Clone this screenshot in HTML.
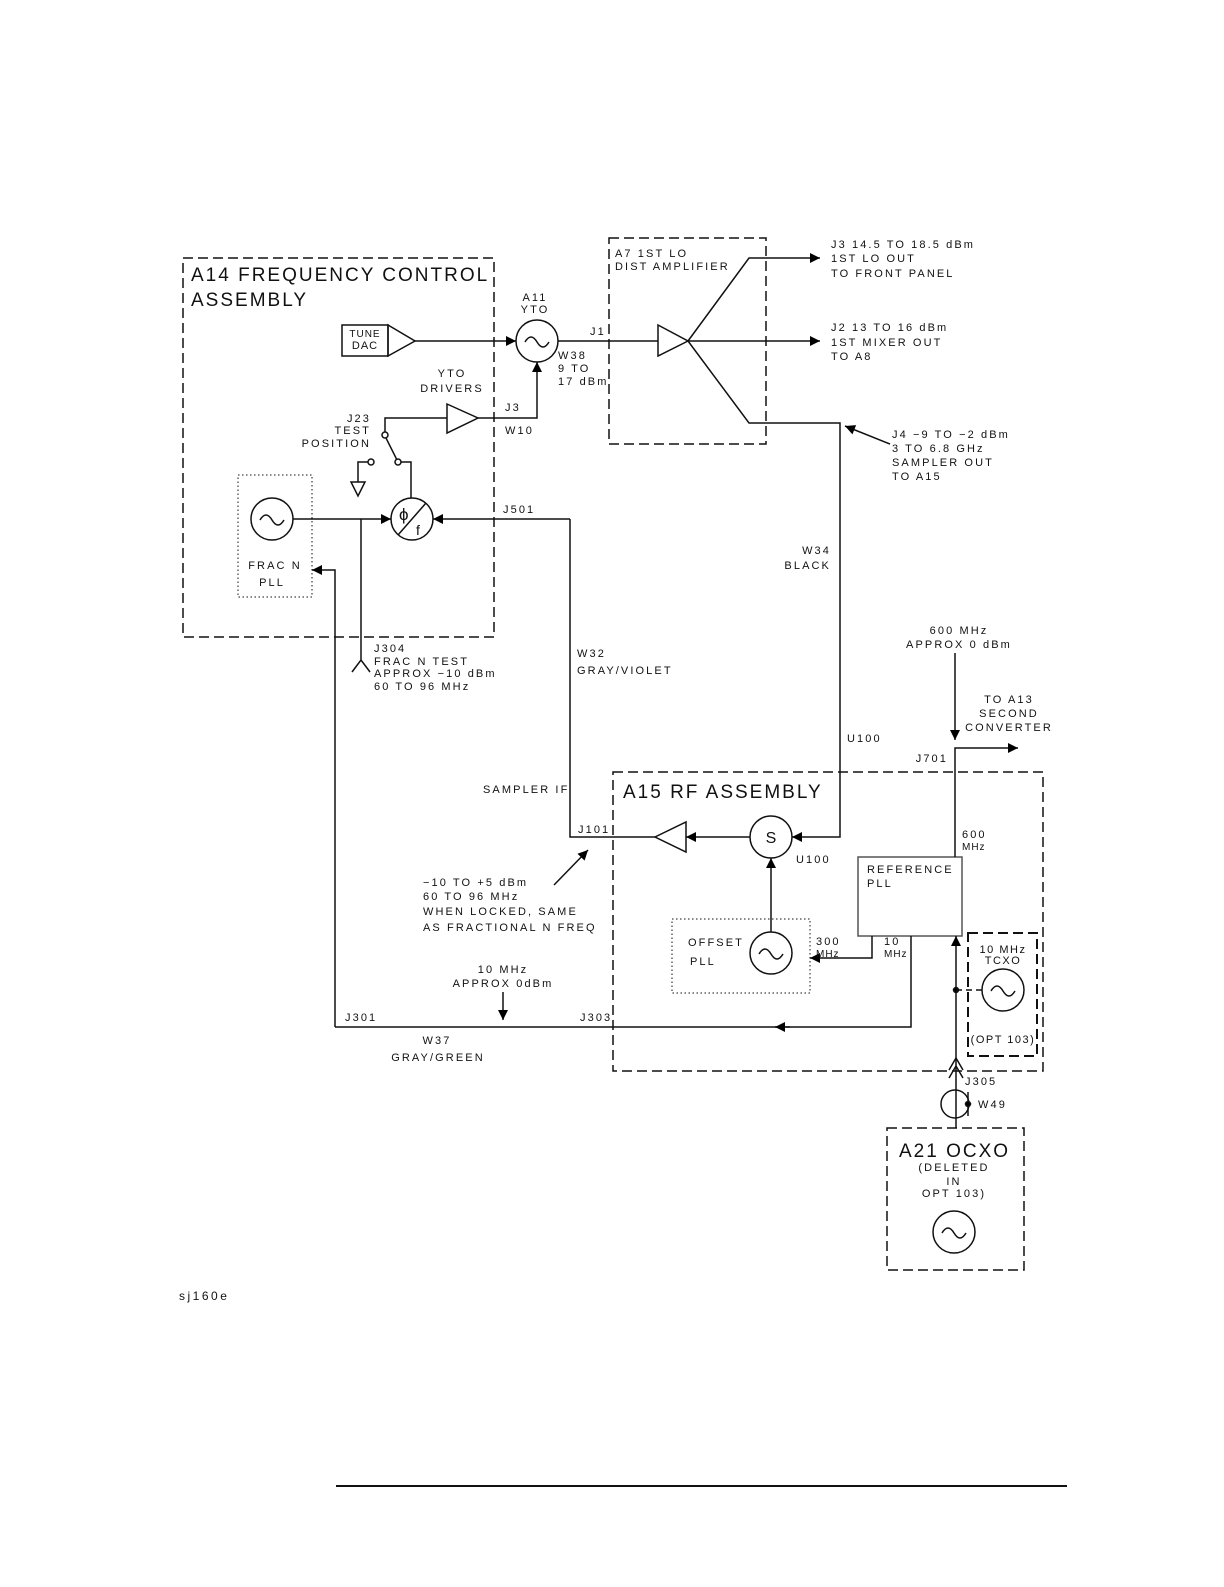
<!DOCTYPE html>
<html><head><meta charset="utf-8"><style>
html,body{margin:0;padding:0;background:#fff}
svg text{font-family:"Liberation Sans",sans-serif;font-size:11px;letter-spacing:2.1px;fill:#111}
svg text.big{font-size:19px;letter-spacing:2px}
</style></head><body>
<svg width="1224" height="1582" viewBox="0 0 1224 1582" xmlns="http://www.w3.org/2000/svg">
<defs>
<marker id="a" viewBox="0 0 10 10" refX="10" refY="5" markerWidth="14" markerHeight="10" markerUnits="userSpaceOnUse" orient="auto"><path d="M0,0L10,5L0,10z" fill="#000"/></marker>
</defs>
<g fill="none" stroke="#111" stroke-width="1.5">
<rect x="183" y="258" width="311" height="379" stroke-dasharray="10,5"/>
<rect x="609" y="238" width="157" height="206" stroke-dasharray="10,5"/>
<rect x="613" y="772" width="430" height="299" stroke-dasharray="10,5"/>
<rect x="968" y="933" width="69" height="123" stroke-dasharray="10,5" stroke-width="2"/>
<rect x="887" y="1128" width="137" height="142" stroke-dasharray="10,5"/>
<rect x="238" y="475" width="74" height="122" stroke-dasharray="1.5,2.5" stroke-width="1"/>
<rect x="672" y="919" width="138" height="74" stroke-dasharray="1.5,2.5" stroke-width="1"/>
<rect x="858" y="857" width="104" height="79" stroke="#555"/>
<rect x="342" y="325" width="46" height="31"/>
<path d="M388,325L415,341L388,356z"/>
<path d="M415,341H516" marker-end="url(#a)"/>
<circle cx="537" cy="341" r="21"/>
<path d="M525,342q6,-10 12,0t12,0"/>
<path d="M558,341H658"/>
<path d="M658,325L688,341L658,356z"/>
<path d="M688,341L749,258H820" marker-end="url(#a)"/>
<path d="M688,341H820" marker-end="url(#a)"/>
<path d="M688,341L749,423H840V837H792" marker-end="url(#a)"/>
<path d="M890,444L845,426" marker-end="url(#a)"/>
<path d="M447,404L478,418L447,433z"/>
<path d="M478,418H537V362" marker-end="url(#a)"/>
<path d="M447,418H385V432"/>
<circle cx="385" cy="435" r="3"/>
<path d="M386,438L397,460"/>
<circle cx="398" cy="462" r="3"/>
<path d="M401,462H411V498"/>
<circle cx="371" cy="462" r="3"/>
<path d="M368,462H358V482"/>
<path d="M351,482H365L358,496z"/>
<circle cx="412" cy="519" r="21"/>
<path d="M398,535L426,503"/>
<circle cx="272" cy="519" r="21"/>
<path d="M260,520q6,-10 12,0t12,0"/>
<path d="M293,519H391" marker-end="url(#a)"/>
<path d="M361,519V660M352,672L361,660L370,672"/>
<path d="M570,519V837H655M570,519H433" marker-end="url(#a)"/>
<path d="M335,1027V570H312" marker-end="url(#a)"/>
<path d="M655,837L686,822V852z"/>
<path d="M750,837H686" marker-end="url(#a)"/>
<circle cx="771" cy="837" r="21"/>
<path d="M771,932V858" marker-end="url(#a)"/>
<circle cx="771" cy="953" r="21"/>
<path d="M759,954q6,-10 12,0t12,0"/>
<path d="M872,936V958H810" marker-end="url(#a)"/>
<path d="M911,936V1027H335"/>
<path d="M790,1027H775" marker-end="url(#a)"/>
<path d="M503,992V1020" marker-end="url(#a)"/>
<path d="M955,857V748H1018" marker-end="url(#a)"/>
<path d="M955,653V740" marker-end="url(#a)"/>
<path d="M956,1128V936" marker-end="url(#a)"/>
<circle cx="956" cy="990" r="2.5" fill="#000"/>
<path d="M956,990H982" stroke-dasharray="6,4"/>
<circle cx="1003" cy="990" r="21"/>
<path d="M991,991q6,-10 12,0t12,0"/>
<path d="M949,1070L956,1058L963,1070M949,1078L956,1066L963,1078"/>
<circle cx="955" cy="1104" r="14"/>
<path d="M968,1092V1116"/>
<circle cx="968" cy="1104" r="2.5" fill="#000"/>
<circle cx="954" cy="1232" r="21"/>
<path d="M942,1233q6,-10 12,0t12,0"/>
<path d="M554,885L588,850" marker-end="url(#a)"/>
<path d="M336,1486H1067" stroke-width="2"/>
</g>
<text x="191" y="281" class="big">A14 FREQUENCY CONTROL</text>
<text x="191" y="306" class="big">ASSEMBLY</text>
<text x="623" y="798" class="big">A15 RF ASSEMBLY</text>
<text x="899" y="1157" class="big">A21 OCXO</text>
<text x="365" y="337" text-anchor="middle" style="font-size:10px;letter-spacing:1px">TUNE</text>
<text x="365" y="349" text-anchor="middle" style="letter-spacing:1px">DAC</text>
<text x="771" y="843" text-anchor="middle" style="font-size:16px;letter-spacing:0">S</text>
<text x="535" y="301" text-anchor="middle">A11</text>
<text x="535" y="313" text-anchor="middle">YTO</text>
<text x="590" y="335">J1</text>
<text x="558" y="359">W38</text>
<text x="558" y="372">9 TO</text>
<text x="558" y="385">17 dBm</text>
<text x="452" y="377" text-anchor="middle">YTO</text>
<text x="452" y="392" text-anchor="middle">DRIVERS</text>
<text x="505" y="411">J3</text>
<text x="505" y="434">W10</text>
<text x="371" y="422" text-anchor="end">J23</text>
<text x="371" y="434" text-anchor="end">TEST</text>
<text x="371" y="447" text-anchor="end">POSITION</text>
<text x="399" y="520" style="font-size:17px;letter-spacing:0">ϕ</text>
<text x="416" y="535" style="font-size:14px;letter-spacing:0">f</text>
<text x="275" y="569" text-anchor="middle">FRAC N</text>
<text x="272" y="586" text-anchor="middle">PLL</text>
<text x="503" y="513">J501</text>
<text x="374" y="652">J304</text>
<text x="374" y="665">FRAC N TEST</text>
<text x="374" y="677">APPROX −10 dBm</text>
<text x="374" y="690">60 TO 96 MHz</text>
<text x="615" y="257">A7 1ST LO</text>
<text x="615" y="270">DIST AMPLIFIER</text>
<text x="831" y="248">J3 14.5 TO 18.5 dBm</text>
<text x="831" y="262">1ST LO OUT</text>
<text x="831" y="277">TO FRONT PANEL</text>
<text x="831" y="331">J2 13 TO 16 dBm</text>
<text x="831" y="346">1ST MIXER OUT</text>
<text x="831" y="360">TO A8</text>
<text x="892" y="438">J4 −9 TO −2 dBm</text>
<text x="892" y="452">3 TO 6.8 GHz</text>
<text x="892" y="466">SAMPLER OUT</text>
<text x="892" y="480">TO A15</text>
<text x="831" y="554" text-anchor="end">W34</text>
<text x="831" y="569" text-anchor="end">BLACK</text>
<text x="577" y="657">W32</text>
<text x="577" y="674">GRAY/VIOLET</text>
<text x="959" y="634" text-anchor="middle">600 MHz</text>
<text x="959" y="648" text-anchor="middle">APPROX 0 dBm</text>
<text x="1009" y="703" text-anchor="middle">TO A13</text>
<text x="1009" y="717" text-anchor="middle">SECOND</text>
<text x="1009" y="731" text-anchor="middle">CONVERTER</text>
<text x="847" y="742">U100</text>
<text x="948" y="762" text-anchor="end">J701</text>
<text x="483" y="793">SAMPLER IF</text>
<text x="578" y="833">J101</text>
<text x="796" y="863">U100</text>
<text x="962" y="838">600</text>
<text x="962" y="850" style="font-size:10px;letter-spacing:1px">MHz</text>
<text x="867" y="873">REFERENCE</text>
<text x="867" y="887">PLL</text>
<text x="423" y="886">−10 TO +5 dBm</text>
<text x="423" y="900">60 TO 96 MHz</text>
<text x="423" y="915">WHEN LOCKED, SAME</text>
<text x="423" y="931">AS FRACTIONAL N FREQ</text>
<text x="688" y="946">OFFSET</text>
<text x="690" y="965">PLL</text>
<text x="816" y="945">300</text>
<text x="816" y="957" style="font-size:10px;letter-spacing:1px">MHz</text>
<text x="884" y="945">10</text>
<text x="884" y="957" style="font-size:10px;letter-spacing:1px">MHz</text>
<text x="1003" y="953" text-anchor="middle" style="letter-spacing:1.5px">10 MHz</text>
<text x="1003" y="964" text-anchor="middle" style="letter-spacing:1.5px">TCXO</text>
<text x="1003" y="1043" text-anchor="middle" style="letter-spacing:1.5px">(OPT 103)</text>
<text x="503" y="973" text-anchor="middle">10 MHz</text>
<text x="503" y="987" text-anchor="middle">APPROX 0dBm</text>
<text x="345" y="1021">J301</text>
<text x="580" y="1021">J303</text>
<text x="437" y="1044" text-anchor="middle">W37</text>
<text x="438" y="1061" text-anchor="middle">GRAY/GREEN</text>
<text x="965" y="1085">J305</text>
<text x="978" y="1108">W49</text>
<text x="954" y="1171" text-anchor="middle">(DELETED</text>
<text x="954" y="1185" text-anchor="middle">IN</text>
<text x="954" y="1197" text-anchor="middle">OPT 103)</text>
<text x="179" y="1300" style="font-size:12px;letter-spacing:2.5px">sj160e</text>
</svg>
</body></html>
